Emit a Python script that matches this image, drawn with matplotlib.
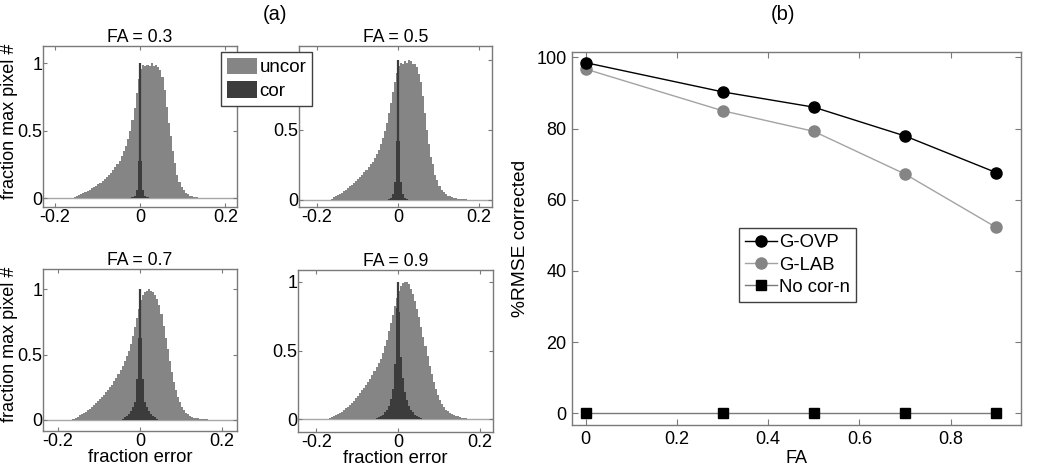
import matplotlib
matplotlib.use("Agg")
import matplotlib.pyplot as plt
import numpy as np
from matplotlib.patches import Patch

plt.rcParams.update({
    "font.family": ["Liberation Sans", "DejaVu Sans"],
    "font.size": 13,
    "xtick.direction": "in", "ytick.direction": "in",
    "xtick.top": True, "ytick.right": True,
    "axes.edgecolor": "#7a7a7a", "xtick.color": "#7a7a7a", "ytick.color": "#7a7a7a",
    "xtick.labelcolor": "black", "ytick.labelcolor": "black",
    "axes.linewidth": 1.0,
})

# ---- panel (a): histograms of fraction error (normalised to max bin) ----
UNC_EDGES = np.linspace(-0.2, 0.2, 81)   # bin width 0.005
COR_EDGES = np.linspace(-0.06, 0.06, 25)

FA_LIST = [0.3, 0.5, 0.7, 0.9]

UNCOR_03 = [0, 0, 0, 0, 0, 0, 0, 0,
            0.002, 0.008, 0.015, 0.022, 0.03, 0.038, 0.046, 0.055, 0.064, 0.073,
            0.083, 0.093, 0.103, 0.115, 0.127, 0.14, 0.155, 0.17, 0.19, 0.21,
            0.23, 0.255, 0.28, 0.31, 0.35, 0.39, 0.44, 0.50, 0.58, 0.67,
            0.78, 0.88, 0.96, 0.99, 0.98, 0.99, 0.98, 1.0, 0.98, 0.99,
            0.97, 0.95, 0.90, 0.80, 0.68, 0.56, 0.46, 0.35, 0.26, 0.17,
            0.12, 0.085, 0.06, 0.042, 0.03, 0.021, 0.015, 0.011, 0.008, 0.006,
            0.004, 0.003, 0.002, 0.002, 0.001,
            0, 0, 0, 0, 0, 0, 0]
UNCOR_05 = [0, 0, 0, 0, 0, 0,
            0.003, 0.01, 0.018, 0.026, 0.034, 0.043, 0.052, 0.062, 0.073, 0.085,
            0.097, 0.11, 0.123, 0.137, 0.15, 0.165, 0.18, 0.197, 0.215, 0.235,
            0.255, 0.275, 0.30, 0.33, 0.36, 0.40, 0.44, 0.49, 0.55, 0.62,
            0.69, 0.77, 0.84, 0.91, 0.96, 0.98, 0.97, 0.99, 0.98, 1.0,
            0.99, 0.97, 0.97, 0.95, 0.90, 0.84, 0.74, 0.62, 0.50, 0.40,
            0.31, 0.26, 0.18, 0.14, 0.10, 0.075, 0.055, 0.04, 0.03, 0.026,
            0.021, 0.017, 0.013, 0.01, 0.008, 0.006, 0.005, 0.004, 0.003, 0.002,
            0.001,
            0, 0, 0]
UNCOR_07 = [0, 0, 0, 0, 0, 0,
            0.003, 0.01, 0.018, 0.026, 0.035, 0.044, 0.054, 0.064, 0.075, 0.087,
            0.10, 0.113, 0.127, 0.142, 0.157, 0.173, 0.19, 0.21, 0.23, 0.25,
            0.27, 0.295, 0.32, 0.35, 0.38, 0.41, 0.45, 0.49, 0.53, 0.58,
            0.64, 0.71, 0.78, 0.85, 0.92, 0.96, 0.98, 0.99, 1.0, 0.99,
            0.98, 0.96, 0.93, 0.88, 0.81, 0.72, 0.63, 0.54, 0.45, 0.37,
            0.29, 0.23, 0.175, 0.135, 0.10, 0.075, 0.056, 0.042, 0.032, 0.024,
            0.018, 0.014, 0.011, 0.008, 0.006, 0.005, 0.004, 0.003, 0.002, 0.002,
            0.001,
            0, 0, 0]
UNCOR_09 = [0, 0, 0, 0, 0,
            0.003, 0.008, 0.014, 0.021, 0.029, 0.037, 0.046, 0.056, 0.067, 0.079,
            0.092, 0.106, 0.12, 0.136, 0.152, 0.17, 0.19, 0.21, 0.23, 0.25,
            0.27, 0.295, 0.32, 0.35, 0.38, 0.41, 0.44, 0.48, 0.53, 0.58,
            0.64, 0.70, 0.76, 0.82, 0.88, 0.93, 0.97, 0.99, 1.0, 1.0,
            0.98, 0.95, 0.91, 0.86, 0.80, 0.74, 0.67, 0.60, 0.53, 0.46,
            0.39, 0.33, 0.27, 0.22, 0.18, 0.14, 0.11, 0.088, 0.07, 0.058,
            0.048, 0.04, 0.033, 0.027, 0.021, 0.016, 0.012, 0.009, 0.007, 0.005,
            0.004, 0.003, 0.002, 0.001,
            0]

COR_03 = [0, 0, 0, 0, 0, 0, 0, 0.003, 0.008, 0.02, 0.06, 0.28,
          0.28, 0.06, 0.02, 0.008, 0.003, 0, 0, 0, 0, 0, 0, 0]
COR_05 = [0, 0, 0, 0, 0, 0, 0.002, 0.006, 0.015, 0.04, 0.13, 0.42,
          0.42, 0.13, 0.04, 0.015, 0.006, 0.002, 0, 0, 0, 0, 0, 0]
COR_07 = [0, 0, 0, 0.01, 0.02, 0.03, 0.045, 0.066, 0.10, 0.14, 0.31, 0.63,
          0.63, 0.31, 0.14, 0.10, 0.066, 0.045, 0.03, 0.02, 0.01, 0, 0, 0]
COR_09 = [0, 0.01, 0.015, 0.022, 0.035, 0.05, 0.07, 0.10, 0.15, 0.22, 0.40, 0.81,
          0.78, 0.45, 0.30, 0.20, 0.14, 0.10, 0.07, 0.05, 0.035, 0.025, 0.017, 0.011]

# the corrected maps have a single very narrow peak bin at zero error
SPIKE_X, SPIKE_H = 0.0, 1.0

UNCOR = [UNCOR_03, UNCOR_05, UNCOR_07, UNCOR_09]
COR = [COR_03, COR_05, COR_07, COR_09]

# ---- panel (b): %RMSE corrected vs FA ----
FA = [0, 0.3, 0.5, 0.7, 0.9]
G_OVP = [98.5, 90.3, 86.0, 77.9, 67.6]
G_LAB = [96.7, 85.0, 79.2, 67.2, 52.2]
NO_COR = [0, 0, 0, 0, 0]

UNCOR_C, COR_C = "#858585", "#3c3c3c"

fig = plt.figure(figsize=(10.5, 4.74), dpi=100)
W, H = 1050, 474


def box(x0, y0, x1, y1):
    return [x0 / W, 1 - y1 / H, (x1 - x0) / W, (y1 - y0) / H]


hist_boxes = [box(43, 46, 237, 207), box(299, 46, 492, 207),
              box(43, 269, 237, 431), box(298, 270, 493, 432)]
hist_xlims = [(-0.227, 0.227), (-0.244, 0.232), (-0.237, 0.237), (-0.245, 0.233)]
hist_ylims = [(-0.064, 1.128), (-0.05, 1.10), (-0.085, 1.156), (-0.092, 1.085)]

for i, fa in enumerate(FA_LIST):
    ax = fig.add_axes(hist_boxes[i])
    ax.axhline(0, color="#a8a8a8", lw=1.0, zorder=0.5)
    ax.stairs(UNCOR[i], UNC_EDGES, fill=True, color=UNCOR_C, zorder=1)
    ax.stairs(COR[i], COR_EDGES, fill=True, color=COR_C, zorder=2)
    ax.vlines(SPIKE_X, 0, SPIKE_H, color=COR_C, lw=1.6, zorder=3)
    ax.set_xlim(*hist_xlims[i])
    ax.set_ylim(*hist_ylims[i])
    ax.set_xticks([-0.2, 0, 0.2], ["-0.2", "0", "0.2"])
    # the "1" of the top-right panel sits under the legend in the original
    ax.set_yticks([0, 0.5, 1], ["0", "0.5", "" if i == 1 else "1"])
    ax.tick_params(axis="x", length=3, pad=1.5, labelsize=13)
    ax.tick_params(axis="y", length=3, pad=0.5, labelsize=13)
    ax.set_title(f"FA = {fa}", fontsize=12.7, pad=3)
    if i % 2 == 0:
        ax.set_ylabel("fraction max pixel #", fontsize=13)
        ax.yaxis.set_label_coords(-0.13, 0.533)
    if i >= 2:
        ax.set_xlabel("fraction error", fontsize=13.3, labelpad=-1)

fig.legend(handles=[Patch(facecolor=UNCOR_C, edgecolor="none", label="uncor"),
                    Patch(facecolor=COR_C, edgecolor="none", label="cor")],
           loc="upper left", bbox_to_anchor=(221 / W, 1 - 52 / H),
           fancybox=False, edgecolor="#404040", framealpha=1,
           handlelength=1.6, handleheight=1.0, handletextpad=0.15,
           borderpad=0.3, labelspacing=0.25, borderaxespad=0, fontsize=13.5)

# ---- right panel ----
axb = fig.add_axes(box(572, 52, 1021, 425))
axb.plot(FA, G_OVP, "-o", color="black", lw=1.0, ms=8, label="G-OVP", zorder=3)
axb.plot(FA, G_LAB, "-o", color="#a3a3a3", mfc="#858585", mec="#858585",
         lw=1.0, ms=8, label="G-LAB", zorder=2)
axb.plot(FA, NO_COR, "-s", color="#7a7a7a", mfc="black", mec="black",
         lw=1.0, ms=6.7, label="No cor-n", zorder=3)
axb.set_xlim(-0.03, 0.954)
axb.set_ylim(-3.3, 101.5)
axb.set_xticks([0, 0.2, 0.4, 0.6, 0.8], ["0", "0.2", "0.4", "0.6", "0.8"])
axb.set_yticks([0, 20, 40, 60, 80, 100])
axb.tick_params(length=4, labelsize=13, pad=4)
axb.set_xlabel("FA", fontsize=13, labelpad=2)
axb.set_ylabel("%RMSE corrected", fontsize=13.8, labelpad=5)
axb.legend(loc="upper left", bbox_to_anchor=(739 / W, 1 - 228 / H),
           bbox_transform=fig.transFigure, fancybox=False,
           edgecolor="#404040", framealpha=1, fontsize=13.3,
           handlelength=1.7, handletextpad=0.1, borderpad=0.35,
           labelspacing=0.28, borderaxespad=0)

fig.text(275 / W, 1 - 15 / H, "(a)", ha="center", va="center", fontsize=14.5)
fig.text(783 / W, 1 - 15 / H, "(b)", ha="center", va="center", fontsize=14.5)

fig.savefig("out.png", dpi=100)
